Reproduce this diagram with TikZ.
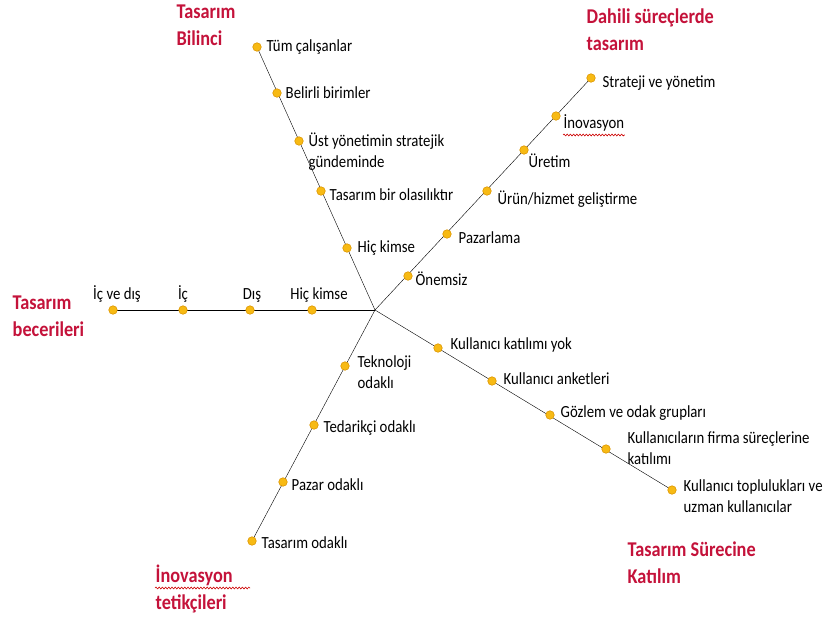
\documentclass[tikz,border=0pt]{standalone}
\usepackage{fontspec}
\setmainfont{Carlito}[FakeStretch=0.87]
\usepackage{xcolor}
\usepackage{tikz}
\usetikzlibrary{calc}
\usetikzlibrary{backgrounds,decorations.pathmorphing}

\definecolor{titlered}{RGB}{196,18,58}
\definecolor{dotgold}{RGB}{247,186,20}
\definecolor{dotedge}{RGB}{222,150,0}

\tikzset{
	stop/.style={circle, fill=dotgold, draw=dotedge, line width=0.6pt, inner sep=0pt, minimum size=8.5pt},
	lbl/.style={anchor=west, inner sep=0pt, align=left, text=black, font=\fontsize{17}{21}\selectfont},
	heading/.style={anchor=west, inner sep=0pt, align=left, text=titlered, font=\fontsize{21}{27}\selectfont\bfseries},
	spell/.style={draw=red!80!black, line width=0.6pt, decorate, decoration={snake, amplitude=0.9pt, segment length=3.2pt}}
}

\begin{document}
\begin{tikzpicture}[x=1pt, y=-1pt, line width=1.4pt, color=black!92]
		\useasboundingbox (0,0) rectangle (829,619);
		\coordinate (merkez) at (375,310);
		
		% Tasarim Bilinci
		\node[stop] (bl1) at (257,47) {};
		\node[stop] (bl2) at (277,93) {};
		\node[stop] (bl3) at (299,141) {};
		\node[stop] (bl4) at (321,191) {};
		\node[stop] (bl5) at (347,248) {};
		\node[lbl] (bl1t) at (266,47) {Tüm çalışanlar};
		\node[lbl] (bl2t) at (285,93) {Belirli birimler};
		\node[lbl] (bl3t) at (308,152) {Üst yönetimin stratejik\\gündeminde};
		\node[lbl] (bl4t) at (329,195) {Tasarım bir olasılıktır};
		\node[lbl] (bl5t) at (357,248) {Hiç kimse};
		
		% Dahili sureclerde tasarim
		\node[stop] (ds1) at (591,78) {};
		\node[stop] (ds2) at (556,116) {};
		\node[stop] (ds3) at (524,150) {};
		\node[stop] (ds4) at (487,191) {};
		\node[stop] (ds5) at (447,234) {};
		\node[stop] (ds6) at (408,276) {};
		\node[lbl] (ds1t) at (602,83) {Strateji ve yönetim};
		\node[lbl] (ds2t) at (563,123) {İnovasyon};
		\node[lbl] (ds3t) at (528,161) {Üretim};
		\node[lbl] (ds4t) at (497,199) {Ürün/hizmet geliştirme};
		\node[lbl] (ds5t) at (458,238) {Pazarlama};
		\node[lbl] (ds6t) at (415,279) {Önemsiz};
		
		% Tasarim becerileri
		\node[stop] (tb1) at (113,310) {};
		\node[stop] (tb2) at (183,310) {};
		\node[stop] (tb3) at (250,310) {};
		\node[stop] (tb4) at (312,310) {};
		\node[lbl, anchor=base] (tb1t) at (117,299) {İç ve dış};
		\node[lbl, anchor=base] (tb2t) at (183,299) {İç};
		\node[lbl, anchor=base] (tb3t) at (252,299) {Dış};
		\node[lbl, anchor=base] (tb4t) at (319,299) {Hiç kimse};
		
		% Tasarim surecine katilim
		\node[stop] (kt1) at (438,348) {};
		\node[stop] (kt2) at (492,381) {};
		\node[stop] (kt3) at (550,415) {};
		\node[stop] (kt4) at (606,449) {};
		\node[stop] (kt5) at (672,490) {};
		\node[lbl] (kt1t) at (450,345) {Kullanıcı katılımı yok};
		\node[lbl] (kt2t) at (503,379) {Kullanıcı anketleri};
		\node[lbl] (kt3t) at (560,413) {Gözlem ve odak grupları};
		\node[lbl] (kt4t) at (627,448) {Kullanıcıların firma süreçlerine\\katılımı};
		\node[lbl] (kt5t) at (683,496) {Kullanıcı toplulukları ve\\uzman kullanıcılar};
		
		% Inovasyon tetikcileri
		\node[stop] (it1) at (345,366) {};
		\node[stop] (it2) at (314,425) {};
		\node[stop] (it3) at (283,482) {};
		\node[stop] (it4) at (252,541) {};
		\node[lbl] (it1t) at (357,372) {Teknoloji\\odaklı};
		\node[lbl] (it2t) at (323,428) {Tedarikçi odaklı};
		\node[lbl] (it3t) at (291,485) {Pazar odaklı};
		\node[lbl] (it4t) at (261,543) {Tasarım odaklı};
		
		% basliklar
		\node[heading] (bilinci) at (176,25) {Tasarım\\Bilinci};
		\node[heading] (dahili) at (586,30) {Dahili süreçlerde\\tasarım};
		\node[heading] (beceri) at (12,316) {Tasarım\\becerileri};
		\node[heading] (tetik) at (155,589) {İnovasyon\\tetikçileri};
		\node[heading] (katilim) at (627,563) {Tasarım Sürecine\\Katılım};
		
		\draw[spell] ($(ds2t.south west)+(0,3)$) -- ($(ds2t.south east)+(0,3)$);
		\draw[spell] ($(tetik.west)+(0,-1)$) -- ++(95,0);
		
		\begin{scope}[on background layer]
			\draw (merkez) -- (bl1.center);
			\draw (merkez) -- (ds1.center);
			\draw (merkez) -- (tb1.center);
			\draw (merkez) -- (kt5.center);
			\draw (merkez) -- (it4.center);
		\end{scope}
	\end{tikzpicture}
\end{document}
